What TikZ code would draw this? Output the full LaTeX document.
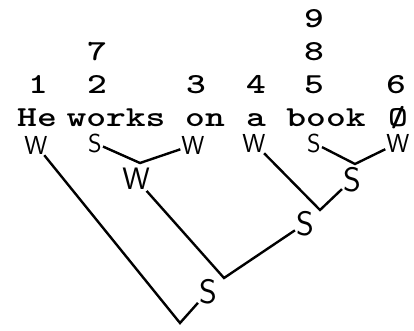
\documentclass[tikz,border=0pt]{standalone}
\usepackage{fontspec}
\usepackage{tikz}
\usetikzlibrary{positioning}

\begin{document}
\begin{tikzpicture}[x=1pt,y=-1pt,
		t/.style={inner sep=0pt,anchor=base,xscale=1.3,font=\fontsize{29}{29}\selectfont\ttfamily\bfseries},
		l/.style={inner sep=1pt,font=\fontsize{26}{26}\selectfont\sffamily},
		b/.style={inner sep=1pt,node distance=0pt,font=\fontsize{34}{34}\selectfont\sffamily},
		a/.style={draw,line width=2.4pt}
		]
		
		\useasboundingbox (0,0) rectangle (414,330);
		
		\node [t] (he) at (37,126) {He};
		\node [t] (works) at (116,126) {works};
		\node [t] (on) at (205,126) {on};
		\node [t] (a) at (256,126) {a};
		\node [t] (book) at (326,126) {book};
		\node [t] (zero) at (398,126) {Ø};
		
		\node [t] (n1) at (38,93) {1};
		\node [t] (n2) at (97,93) {2};
		\node [t] (n3) at (196,93) {3};
		\node [t] (n4) at (256,93) {4};
		\node [t] (n5) at (314,93) {5};
		\node [t] (n6) at (396,93) {6};
		\node [t] (n7) at (97,60) {7};
		\node [t] (n8) at (314,60) {8};
		\node [t] (n9) at (314,27) {9};
		
		\node [l] (he w) at (36,145) {W};
		\node [l] (works s) at (95,143) {S};
		\node [l] (on w) at (193,145) {W};
		\node [l] (a w) at (254,143) {W};
		\node [l] (book s) at (314,143) {S};
		\node [l] (zero w) at (398,143) {W};
		
		\coordinate (vp) at (140,163);
		\coordinate (np) at (355,164);
		\coordinate (det) at (320,210);
		\coordinate (pp) at (224,278);
		\coordinate (root) at (180,323);
		\node [b,font=\fontsize{31}{31}\selectfont\sffamily,below=4pt of vp,xshift=-4pt] (vp w) {W};
		\node [b,below=2pt of np,xshift=-3pt] (np s) {S};
		\node [b,below=of det,xshift=-15pt] (det s) {S};
		\node [b,below=of pp,xshift=-16pt] (pp s) {S};
		
		\path [a] (works s) -- (vp) -- (on w);
		\path [a] (book s) -- (np) -- (zero w);
		\path [a] (a w) -- (det) -- (np s);
		\path [a] (vp w) -- (pp) -- (det s);
		\path [a] (he w) -- (root) -- (pp s);
		
	\end{tikzpicture}
\end{document}
